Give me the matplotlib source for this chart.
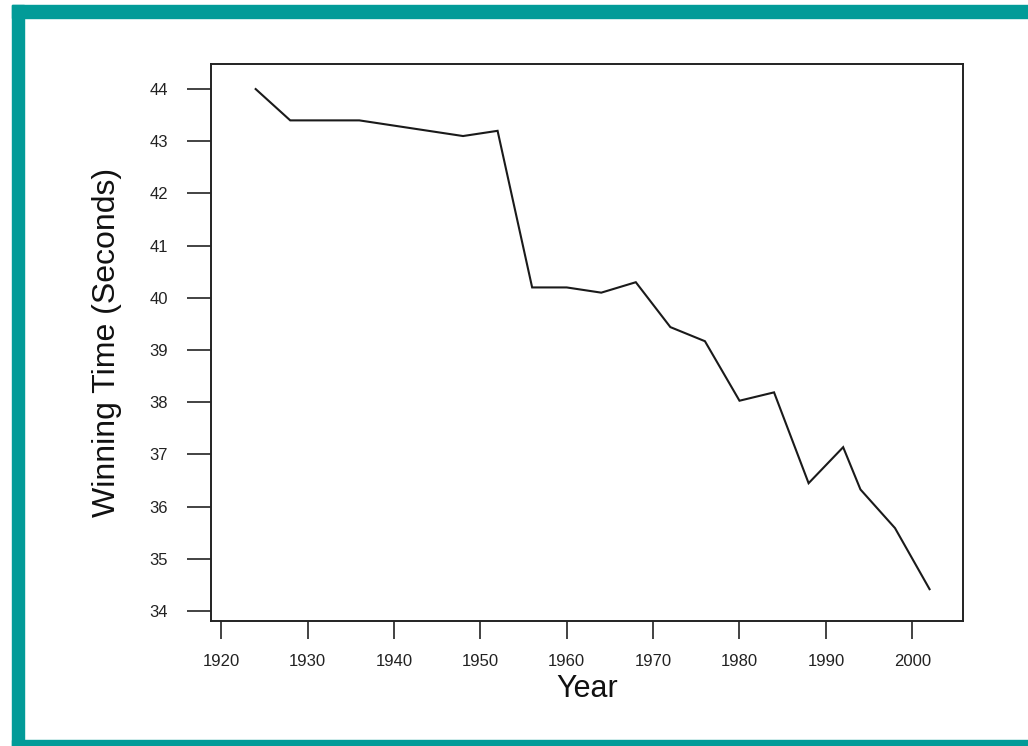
import matplotlib
matplotlib.use("Agg")
import matplotlib.pyplot as plt
from matplotlib.patches import Rectangle

# Olympic men's 500 m speed skating winning times
years = [1924, 1928, 1932, 1936, 1948, 1952, 1956, 1960, 1964, 1968,
         1972, 1976, 1980, 1984, 1988, 1992, 1994, 1998, 2002]
times = [44.0, 43.4, 43.4, 43.4, 43.1, 43.2, 40.2, 40.2, 40.1, 40.3,
         39.44, 39.17, 38.03, 38.19, 36.45, 37.14, 36.33, 35.59, 34.42]

x_ticks = [1920, 1930, 1940, 1950, 1960, 1970, 1980, 1990, 2000]
y_ticks = [34, 35, 36, 37, 38, 39, 40, 41, 42, 43, 44]

plt.rcParams['font.family'] = ['Liberation Sans', 'DejaVu Sans']

W, H = 1028, 746
fig = plt.figure(figsize=(W / 100, H / 100), dpi=100)
fig.patch.set_facecolor('white')

# teal frame (top, left and bottom bands)
teal = '#029b98'
fig.patches.append(Rectangle((12 / W, 1 - 17.5 / H), 1 - 12 / W, 12.5 / H,
                             transform=fig.transFigure, color=teal, zorder=0))
fig.patches.append(Rectangle((12 / W, 0), 12 / W, 1 - 5 / H,
                             transform=fig.transFigure, color=teal, zorder=0))
fig.patches.append(Rectangle((12 / W, 0), 1 - 12 / W, 6.5 / H,
                             transform=fig.transFigure, color=teal, zorder=0))

ax = fig.add_axes([211 / W, 1 - 620.5 / H, (963 - 211) / W, (620.5 - 64) / H])
ax.plot(years, times, color='#1a1a1a', linewidth=1.5, solid_joinstyle='miter')

ax.set_xlim(1918.83, 2005.87)
ax.set_ylim(33.82, 44.48)
ax.set_xticks(x_ticks)
ax.set_yticks(y_ticks)
ax.set_xticklabels([str(v) for v in x_ticks])
ax.set_yticklabels([str(v) for v in y_ticks])

for s in ax.spines.values():
    s.set_color('#222222')
    s.set_linewidth(1.4)

ax.tick_params(axis='x', direction='out', length=13, width=1.2,
               colors='#222222', labelsize=12, pad=11)
ax.tick_params(axis='y', direction='out', length=17, width=1.2,
               colors='#222222', labelsize=12, pad=14)

ax.set_xlabel('Year', fontsize=22, color='#111111', labelpad=4)
ax.set_ylabel('Winning Time (Seconds)', fontsize=23, color='#111111', labelpad=20)

fig.savefig('out.png', dpi=100)
